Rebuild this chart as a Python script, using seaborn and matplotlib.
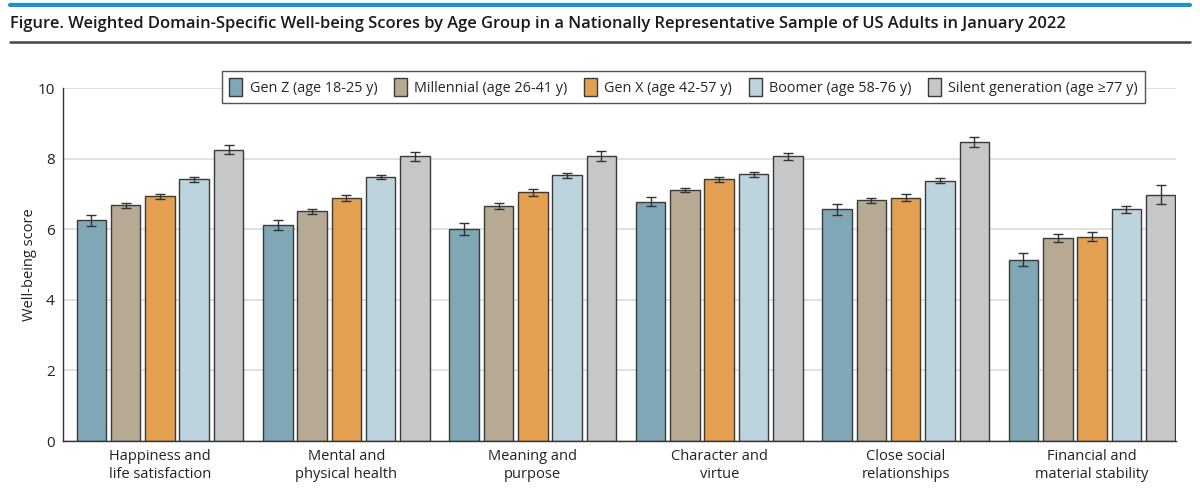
import matplotlib
matplotlib.use('Agg')
import pandas as pd
import matplotlib.pyplot as plt
import seaborn as sns
from matplotlib.lines import Line2D

# Data
domains = ['Happiness and\nlife satisfaction', 'Mental and\nphysical health', 'Meaning and\npurpose',
           'Character and\nvirtue', 'Close social\nrelationships', 'Financial and\nmaterial stability']
groups = ['Gen Z (age 18-25 y)', 'Millennial (age 26-41 y)', 'Gen X (age 42-57 y)',
          'Boomer (age 58-76 y)', 'Silent generation (age ≥77 y)']

gen_z = [6.25, 6.11, 6.00, 6.78, 6.56, 5.14]
millennial = [6.68, 6.51, 6.66, 7.12, 6.82, 5.75]
gen_x = [6.93, 6.88, 7.04, 7.42, 6.89, 5.79]
boomer = [7.42, 7.47, 7.53, 7.55, 7.37, 6.57]
silent = [8.25, 8.06, 8.08, 8.06, 8.47, 6.97]

gen_z_err = [0.15, 0.14, 0.17, 0.13, 0.16, 0.19]
millennial_err = [0.07, 0.07, 0.08, 0.06, 0.07, 0.10]
gen_x_err = [0.08, 0.08, 0.09, 0.07, 0.10, 0.12]
boomer_err = [0.07, 0.06, 0.07, 0.06, 0.07, 0.10]
silent_err = [0.13, 0.12, 0.14, 0.11, 0.15, 0.27]

colors = ['#7fa7b6', '#b6aa95', '#e4a051', '#bdd3dd', '#c6c7c9']

values = [gen_z, millennial, gen_x, boomer, silent]
errors = [gen_z_err, millennial_err, gen_x_err, boomer_err, silent_err]

rows = []
for g, vals in zip(groups, values):
    for d, v in zip(domains, vals):
        rows.append({'domain': d, 'group': g, 'score': v})
df = pd.DataFrame(rows)

sns.set_style('white')
plt.rcParams['font.family'] = ['Open Sans', 'DejaVu Sans']

fig = plt.figure(figsize=(12, 4.94), dpi=100)
ax = fig.add_axes([63 / 1200, 1 - 441 / 494, (1176 - 63) / 1200, (441 - 88) / 494])

sns.barplot(data=df, x='domain', y='score', hue='group', hue_order=groups, order=domains,
            palette=colors, saturation=1, edgecolor='#3a3a3a', linewidth=1, width=0.92, gap=0.14,
            errorbar=None, ax=ax, zorder=2)

# error bars placed on the drawn bars
for cont, errs in zip(ax.containers, errors):
    xs = [b.get_x() + b.get_width() / 2 for b in cont]
    ys = [b.get_height() for b in cont]
    ax.errorbar(xs, ys, yerr=errs, fmt='none', ecolor='#333333', elinewidth=1,
                capsize=3.6, capthick=1, zorder=3)

ax.set_ylim(0, 10)
ax.set_xlim(-0.52, 5.45)
ax.set_yticks([0, 2, 4, 6, 8, 10])
ax.yaxis.grid(True, color='#dcdcdc', lw=1.2, zorder=0)
ax.set_axisbelow(True)
for s in ['top', 'right']:
    ax.spines[s].set_visible(False)
for s in ['left', 'bottom']:
    ax.spines[s].set_color('#333333')
    ax.spines[s].set_linewidth(1)
ax.tick_params(axis='y', length=4, color='#333333', labelsize=11, labelcolor='#222222', pad=2)
ax.tick_params(axis='x', length=0, labelsize=10.5, labelcolor='#222222', pad=6)
ax.set_xlabel('')
ax.set_ylabel('Well-being score', fontsize=10.5, color='#222222', labelpad=0)

leg = ax.legend(ncol=5, loc='upper right', bbox_to_anchor=(1152 / 1200, 1 - 64 / 494),
                bbox_transform=fig.transFigure, frameon=True, fancybox=False,
                edgecolor='#555555', framealpha=1, fontsize=10.4, handlelength=0.9,
                handleheight=1.5, handletextpad=0.5, columnspacing=1.15, borderpad=0.5)
leg.get_frame().set_linewidth(1)

# header decoration
fig.add_artist(Line2D([10 / 1200, 1190 / 1200], [1 - 5.5 / 494] * 2, color='#1b93c9', lw=3))
fig.add_artist(Line2D([10 / 1200, 1190 / 1200], [1 - 42.5 / 494] * 2, color='#444444', lw=1.8))
fig.text(10 / 1200, 1 - 24 / 494,
         'Figure. Weighted Domain-Specific Well-being Scores by Age Group in a Nationally '
         'Representative Sample of US Adults in January 2022',
         fontsize=11.9, fontweight='semibold', color='#1a1a1a', va='center', ha='left')

fig.savefig('out.png', dpi=100)
